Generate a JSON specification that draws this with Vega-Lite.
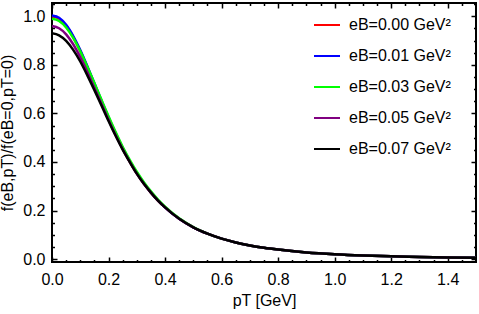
{
  "$schema": "https://vega.github.io/schema/vega-lite/v6.json",
  "width": 424,
  "height": 259,
  "autosize": {"type": "none"},
  "padding": {"left": 52, "top": 3, "right": 3, "bottom": 52},
  "background": "white",
  "config": {
    "view": {"stroke": "black", "strokeWidth": 2},
    "font": "Liberation Sans",
    "axis": {"grid": false, "domain": false, "labelFont": "Liberation Sans", "labelFontSize": 16, "labelColor": "black", "titleFont": "Liberation Sans", "titleFontSize": 16, "titleFontWeight": "normal", "titleColor": "black", "tickColor": "black", "tickWidth": 1.5}
  },
  "data": {"values": [
    {"p":0,"s":"eB=0.00 GeV²","v":1.000},{"p":0,"s":"eB=0.01 GeV²","v":1.004},{"p":0,"s":"eB=0.03 GeV²","v":0.990},{"p":0,"s":"eB=0.05 GeV²","v":0.960},{"p":0,"s":"eB=0.07 GeV²","v":0.930},
    {"p":0.025,"s":"eB=0.00 GeV²","v":0.990},{"p":0.025,"s":"eB=0.01 GeV²","v":0.994},{"p":0.025,"s":"eB=0.03 GeV²","v":0.981},{"p":0.025,"s":"eB=0.05 GeV²","v":0.951},{"p":0.025,"s":"eB=0.07 GeV²","v":0.922},
    {"p":0.05,"s":"eB=0.00 GeV²","v":0.961},{"p":0.05,"s":"eB=0.01 GeV²","v":0.965},{"p":0.05,"s":"eB=0.03 GeV²","v":0.954},{"p":0.05,"s":"eB=0.05 GeV²","v":0.926},{"p":0.05,"s":"eB=0.07 GeV²","v":0.899},
    {"p":0.075,"s":"eB=0.00 GeV²","v":0.915},{"p":0.075,"s":"eB=0.01 GeV²","v":0.919},{"p":0.075,"s":"eB=0.03 GeV²","v":0.911},{"p":0.075,"s":"eB=0.05 GeV²","v":0.885},{"p":0.075,"s":"eB=0.07 GeV²","v":0.862},
    {"p":0.1,"s":"eB=0.00 GeV²","v":0.857},{"p":0.1,"s":"eB=0.01 GeV²","v":0.861},{"p":0.1,"s":"eB=0.03 GeV²","v":0.856},{"p":0.1,"s":"eB=0.05 GeV²","v":0.832},{"p":0.1,"s":"eB=0.07 GeV²","v":0.814},
    {"p":0.125,"s":"eB=0.00 GeV²","v":0.790},{"p":0.125,"s":"eB=0.01 GeV²","v":0.794},{"p":0.125,"s":"eB=0.03 GeV²","v":0.792},{"p":0.125,"s":"eB=0.05 GeV²","v":0.771},{"p":0.125,"s":"eB=0.07 GeV²","v":0.757},
    {"p":0.15,"s":"eB=0.00 GeV²","v":0.720},{"p":0.15,"s":"eB=0.01 GeV²","v":0.724},{"p":0.15,"s":"eB=0.03 GeV²","v":0.725},{"p":0.15,"s":"eB=0.05 GeV²","v":0.706},{"p":0.15,"s":"eB=0.07 GeV²","v":0.696},
    {"p":0.175,"s":"eB=0.00 GeV²","v":0.649},{"p":0.175,"s":"eB=0.01 GeV²","v":0.653},{"p":0.175,"s":"eB=0.03 GeV²","v":0.656},{"p":0.175,"s":"eB=0.05 GeV²","v":0.640},{"p":0.175,"s":"eB=0.07 GeV²","v":0.633},
    {"p":0.2,"s":"eB=0.00 GeV²","v":0.580},{"p":0.2,"s":"eB=0.01 GeV²","v":0.584},{"p":0.2,"s":"eB=0.03 GeV²","v":0.588},{"p":0.2,"s":"eB=0.05 GeV²","v":0.574},{"p":0.2,"s":"eB=0.07 GeV²","v":0.569},
    {"p":0.225,"s":"eB=0.00 GeV²","v":0.515},{"p":0.225,"s":"eB=0.01 GeV²","v":0.519},{"p":0.225,"s":"eB=0.03 GeV²","v":0.523},{"p":0.225,"s":"eB=0.05 GeV²","v":0.511},{"p":0.225,"s":"eB=0.07 GeV²","v":0.508},
    {"p":0.25,"s":"eB=0.00 GeV²","v":0.455},{"p":0.25,"s":"eB=0.01 GeV²","v":0.458},{"p":0.25,"s":"eB=0.03 GeV²","v":0.463},{"p":0.25,"s":"eB=0.05 GeV²","v":0.453},{"p":0.25,"s":"eB=0.07 GeV²","v":0.451},
    {"p":0.275,"s":"eB=0.00 GeV²","v":0.402},{"p":0.275,"s":"eB=0.01 GeV²","v":0.404},{"p":0.275,"s":"eB=0.03 GeV²","v":0.409},{"p":0.275,"s":"eB=0.05 GeV²","v":0.401},{"p":0.275,"s":"eB=0.07 GeV²","v":0.400},
    {"p":0.3,"s":"eB=0.00 GeV²","v":0.353},{"p":0.3,"s":"eB=0.01 GeV²","v":0.355},{"p":0.3,"s":"eB=0.03 GeV²","v":0.360},{"p":0.3,"s":"eB=0.05 GeV²","v":0.352},{"p":0.3,"s":"eB=0.07 GeV²","v":0.352},
    {"p":0.325,"s":"eB=0.00 GeV²","v":0.311},{"p":0.325,"s":"eB=0.01 GeV²","v":0.312},{"p":0.325,"s":"eB=0.03 GeV²","v":0.317},{"p":0.325,"s":"eB=0.05 GeV²","v":0.310},{"p":0.325,"s":"eB=0.07 GeV²","v":0.310},
    {"p":0.35,"s":"eB=0.00 GeV²","v":0.274},{"p":0.35,"s":"eB=0.01 GeV²","v":0.275},{"p":0.35,"s":"eB=0.03 GeV²","v":0.279},{"p":0.35,"s":"eB=0.05 GeV²","v":0.274},{"p":0.35,"s":"eB=0.07 GeV²","v":0.274},
    {"p":0.375,"s":"eB=0.00 GeV²","v":0.241},{"p":0.375,"s":"eB=0.01 GeV²","v":0.242},{"p":0.375,"s":"eB=0.03 GeV²","v":0.245},{"p":0.375,"s":"eB=0.05 GeV²","v":0.241},{"p":0.375,"s":"eB=0.07 GeV²","v":0.241},
    {"p":0.4,"s":"eB=0.00 GeV²","v":0.213},{"p":0.4,"s":"eB=0.01 GeV²","v":0.213},{"p":0.4,"s":"eB=0.03 GeV²","v":0.216},{"p":0.4,"s":"eB=0.05 GeV²","v":0.213},{"p":0.4,"s":"eB=0.07 GeV²","v":0.213},
    {"p":0.45,"s":"eB=0.00 GeV²","v":0.166},{"p":0.45,"s":"eB=0.01 GeV²","v":0.166},{"p":0.45,"s":"eB=0.03 GeV²","v":0.168},{"p":0.45,"s":"eB=0.05 GeV²","v":0.166},{"p":0.45,"s":"eB=0.07 GeV²","v":0.166},
    {"p":0.5,"s":"eB=0.00 GeV²","v":0.131},{"p":0.5,"s":"eB=0.01 GeV²","v":0.131},{"p":0.5,"s":"eB=0.03 GeV²","v":0.132},{"p":0.5,"s":"eB=0.05 GeV²","v":0.131},{"p":0.5,"s":"eB=0.07 GeV²","v":0.131},
    {"p":0.55,"s":"eB=0.00 GeV²","v":0.105},{"p":0.55,"s":"eB=0.01 GeV²","v":0.105},{"p":0.55,"s":"eB=0.03 GeV²","v":0.105},{"p":0.55,"s":"eB=0.05 GeV²","v":0.105},{"p":0.55,"s":"eB=0.07 GeV²","v":0.105},
    {"p":0.6,"s":"eB=0.00 GeV²","v":0.0844},{"p":0.6,"s":"eB=0.01 GeV²","v":0.0844},{"p":0.6,"s":"eB=0.03 GeV²","v":0.0844},{"p":0.6,"s":"eB=0.05 GeV²","v":0.0844},{"p":0.6,"s":"eB=0.07 GeV²","v":0.0844},
    {"p":0.65,"s":"eB=0.00 GeV²","v":0.0687},{"p":0.65,"s":"eB=0.01 GeV²","v":0.0687},{"p":0.65,"s":"eB=0.03 GeV²","v":0.0687},{"p":0.65,"s":"eB=0.05 GeV²","v":0.0687},{"p":0.65,"s":"eB=0.07 GeV²","v":0.0687},
    {"p":0.7,"s":"eB=0.00 GeV²","v":0.0564},{"p":0.7,"s":"eB=0.01 GeV²","v":0.0564},{"p":0.7,"s":"eB=0.03 GeV²","v":0.0564},{"p":0.7,"s":"eB=0.05 GeV²","v":0.0564},{"p":0.7,"s":"eB=0.07 GeV²","v":0.0564},
    {"p":0.75,"s":"eB=0.00 GeV²","v":0.0467},{"p":0.75,"s":"eB=0.01 GeV²","v":0.0467},{"p":0.75,"s":"eB=0.03 GeV²","v":0.0467},{"p":0.75,"s":"eB=0.05 GeV²","v":0.0467},{"p":0.75,"s":"eB=0.07 GeV²","v":0.0467},
    {"p":0.8,"s":"eB=0.00 GeV²","v":0.0391},{"p":0.8,"s":"eB=0.01 GeV²","v":0.0391},{"p":0.8,"s":"eB=0.03 GeV²","v":0.0391},{"p":0.8,"s":"eB=0.05 GeV²","v":0.0391},{"p":0.8,"s":"eB=0.07 GeV²","v":0.0391},
    {"p":0.9,"s":"eB=0.00 GeV²","v":0.0275},{"p":0.9,"s":"eB=0.01 GeV²","v":0.0275},{"p":0.9,"s":"eB=0.03 GeV²","v":0.0275},{"p":0.9,"s":"eB=0.05 GeV²","v":0.0275},{"p":0.9,"s":"eB=0.07 GeV²","v":0.0275},
    {"p":1.0,"s":"eB=0.00 GeV²","v":0.0200},{"p":1.0,"s":"eB=0.01 GeV²","v":0.0200},{"p":1.0,"s":"eB=0.03 GeV²","v":0.0200},{"p":1.0,"s":"eB=0.05 GeV²","v":0.0200},{"p":1.0,"s":"eB=0.07 GeV²","v":0.0200},
    {"p":1.1,"s":"eB=0.00 GeV²","v":0.0148},{"p":1.1,"s":"eB=0.01 GeV²","v":0.0148},{"p":1.1,"s":"eB=0.03 GeV²","v":0.0148},{"p":1.1,"s":"eB=0.05 GeV²","v":0.0148},{"p":1.1,"s":"eB=0.07 GeV²","v":0.0148},
    {"p":1.2,"s":"eB=0.00 GeV²","v":0.0112},{"p":1.2,"s":"eB=0.01 GeV²","v":0.0112},{"p":1.2,"s":"eB=0.03 GeV²","v":0.0112},{"p":1.2,"s":"eB=0.05 GeV²","v":0.0112},{"p":1.2,"s":"eB=0.07 GeV²","v":0.0112},
    {"p":1.3,"s":"eB=0.00 GeV²","v":0.0087},{"p":1.3,"s":"eB=0.01 GeV²","v":0.0087},{"p":1.3,"s":"eB=0.03 GeV²","v":0.0087},{"p":1.3,"s":"eB=0.05 GeV²","v":0.0087},{"p":1.3,"s":"eB=0.07 GeV²","v":0.0087},
    {"p":1.4,"s":"eB=0.00 GeV²","v":0.0069},{"p":1.4,"s":"eB=0.01 GeV²","v":0.0069},{"p":1.4,"s":"eB=0.03 GeV²","v":0.0069},{"p":1.4,"s":"eB=0.05 GeV²","v":0.0069},{"p":1.4,"s":"eB=0.07 GeV²","v":0.0069},
    {"p":1.5,"s":"eB=0.00 GeV²","v":0.0056},{"p":1.5,"s":"eB=0.01 GeV²","v":0.0056},{"p":1.5,"s":"eB=0.03 GeV²","v":0.0056},{"p":1.5,"s":"eB=0.05 GeV²","v":0.0056},{"p":1.5,"s":"eB=0.07 GeV²","v":0.0056}
  ]},
  "layer": [
    {
      "mark": {"type": "line", "strokeWidth": 2.5, "interpolate": "monotone", "clip": true},
      "encoding": {
        "x": {"field": "p", "type": "quantitative", "scale": {"domain": [0, 1.5], "nice": false, "zero": false},
              "axis": {"orient": "bottom", "values": [0, 0.2, 0.4, 0.6, 0.8, 1.0, 1.2, 1.4], "format": ".1f", "tickSize": -5, "labelPadding": 14, "labelFlush": false, "title": "pT [GeV]", "titlePadding": 5}},
        "y": {"field": "v", "type": "quantitative", "scale": {"domain": [-0.012, 1.055], "nice": false, "zero": false},
              "axis": {"orient": "left", "values": [0, 0.2, 0.4, 0.6, 0.8, 1.0], "format": ".1f", "tickSize": -5, "labelPadding": 12, "labelFlush": false, "title": "f(eB,pT)/f(eB=0,pT=0)", "titlePadding": 7}},
        "color": {"field": "s", "type": "nominal",
                  "scale": {"domain": ["eB=0.00 GeV²", "eB=0.01 GeV²", "eB=0.03 GeV²", "eB=0.05 GeV²", "eB=0.07 GeV²"], "range": ["#ff0000", "#0000ff", "#00ff00", "#800080", "#000000"]},
                  "legend": {"orient": "none", "legendX": 261, "legendY": 8, "padding": 0, "title": null, "symbolType": "stroke", "symbolSize": 676, "symbolStrokeWidth": 2, "labelFont": "Liberation Sans", "labelFontSize": 16, "labelColor": "black", "labelOffset": 8, "rowPadding": 9, "labelLimit": 200}}
      }
    },
    {
      "mark": {"type": "point", "opacity": 0},
      "encoding": {
        "x": {"field": "p", "type": "quantitative", "axis": {"orient": "top", "values": [0, 0.2, 0.4, 0.6, 0.8, 1.0, 1.2, 1.4], "tickSize": -5, "labels": false, "title": null}},
        "y": {"field": "v", "type": "quantitative", "axis": {"orient": "right", "values": [0, 0.2, 0.4, 0.6, 0.8, 1.0], "tickSize": -5, "labels": false, "title": null}}
      }
    },
    {
      "mark": {"type": "point", "opacity": 0},
      "encoding": {
        "x": {"field": "p", "type": "quantitative", "axis": {"orient": "bottom", "values": [0.05,0.1,0.15,0.25,0.3,0.35,0.45,0.5,0.55,0.65,0.7,0.75,0.85,0.9,0.95,1.05,1.1,1.15,1.25,1.3,1.35,1.45], "tickSize": -2.5, "labels": false, "title": null}},
        "y": {"field": "v", "type": "quantitative", "axis": {"orient": "left", "values": [0.05,0.1,0.15,0.25,0.3,0.35,0.45,0.5,0.55,0.65,0.7,0.75,0.85,0.9,0.95,1.05], "tickSize": -2.5, "labels": false, "title": null}}
      }
    },
    {
      "mark": {"type": "point", "opacity": 0},
      "encoding": {
        "x": {"field": "p", "type": "quantitative", "axis": {"orient": "top", "values": [0.05,0.1,0.15,0.25,0.3,0.35,0.45,0.5,0.55,0.65,0.7,0.75,0.85,0.9,0.95,1.05,1.1,1.15,1.25,1.3,1.35,1.45], "tickSize": -2.5, "labels": false, "title": null}},
        "y": {"field": "v", "type": "quantitative", "axis": {"orient": "right", "values": [0.05,0.1,0.15,0.25,0.3,0.35,0.45,0.5,0.55,0.65,0.7,0.75,0.85,0.9,0.95,1.05], "tickSize": -2.5, "labels": false, "title": null}}
      }
    }
  ],
  "resolve": {"axis": {"x": "independent", "y": "independent"}}
}
